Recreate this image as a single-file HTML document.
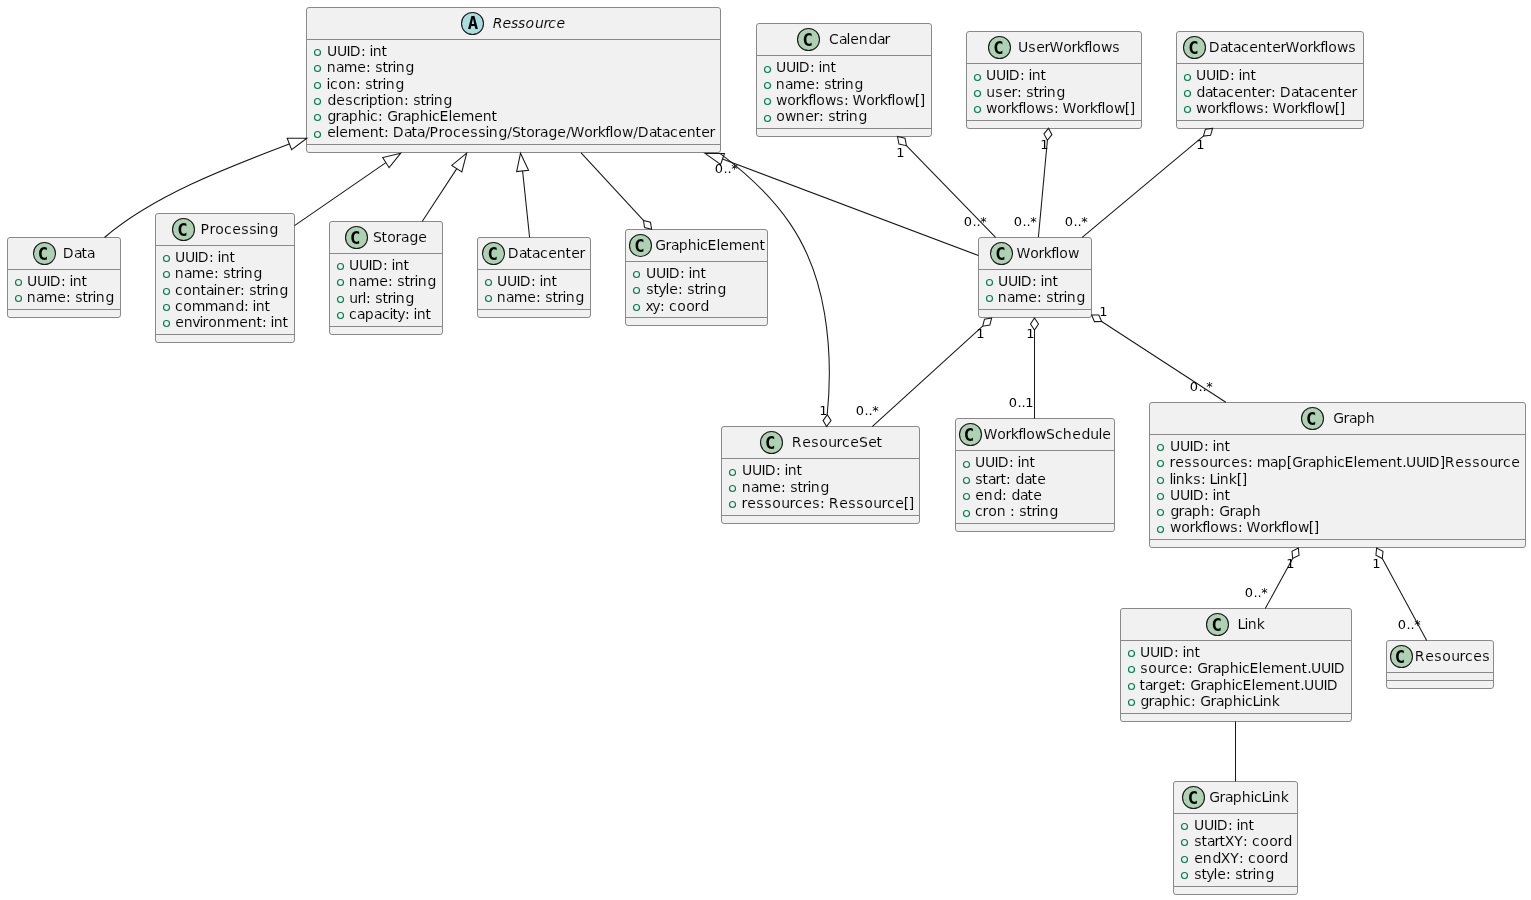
<!DOCTYPE html>
<html lang="en">
<head>
<meta charset="utf-8">
<title>Class diagram</title>
<style>
html,body{margin:0;padding:0;background:#fff;}
body{width:1531px;height:900px;overflow:hidden;}
svg{display:block;will-change:transform;}
text{font-family:"DejaVu Sans","Liberation Sans",sans-serif;fill:#000;font-kerning:none;font-variant-ligatures:none;white-space:pre;}
.nm,.mb{font-size:14px;stroke:#F1F1F1;stroke-width:0.1px;}
.it{font-style:italic;}
.lb{font-size:13px;}
.ch{font-family:"DejaVu Sans Mono","Liberation Mono",monospace;font-weight:bold;font-size:17.3px;}
.bx{fill:#F1F1F1;stroke:#898989;stroke-width:1;}
.sp{stroke:#898989;stroke-width:1;}
.cc{stroke:#181818;stroke-width:1.1;}
.ic{fill:none;stroke:#038048;stroke-width:1.15;}
.e,.h{fill:none;stroke:#181818;stroke-width:1.06;}
</style>
</head>
<body>
<svg width="1531" height="900" viewBox="0 0 1531 900">
<rect x="0" y="0" width="1531" height="900" fill="#FFFFFF"/>
<g class="cls">
<rect x="306.5" y="7.5" width="414" height="145" rx="2.5" ry="2.5" class="bx"/>
<circle cx="472.5" cy="23.5" r="11" fill="#A9DCDF" class="cc"/>
<text class="ch" x="473.05" y="29.15" text-anchor="middle">A</text>
<text class="nm it" x="492.75 502.5 511 518 525.5 535 543.5 548.25 556.5" y="28">Ressource</text>
<line x1="307" y1="39.5" x2="720" y2="39.5" class="sp"/>
<circle cx="317.5" cy="52.5" r="3" class="ic"/>
<text class="mb" x="327 337 346.5 349.75 361 366 369.5 372.75 381.5" y="56">UUID: int</text>
<circle cx="317.5" cy="68.5" r="3" class="ic"/>
<text class="mb" x="326.75 336 343.75 357.25 366 371 375.25 382.5 387.5 392.5 395.75 405.5" y="72">name: string</text>
<circle cx="317.5" cy="85.5" r="3" class="ic"/>
<text class="mb" x="326.5 330 338.25 346.75 356 361 365.25 372.5 377.5 382.5 385.75 395.5" y="89">icon: string</text>
<circle cx="317.5" cy="101.5" r="3" class="ic"/>
<text class="mb" x="327.5 336.25 345.25 353 360.5 365.5 368.75 377.5 382.5 386.25 394.75 404 409 413.25 420.5 425.5 430.5 433.75 443.5" y="105">description: string</text>
<circle cx="317.5" cy="117.5" r="3" class="ic"/>
<text class="mb" x="327.5 335.5 341 348.75 357.75 366.5 370 378 383 387.25 397.5 403 410.75 419.75 428.5 432 439.5 448.5 452.25 460.75 474.25 482.75 491.5" y="121">graphic: GraphicElement</text>
<circle cx="317.5" cy="134.5" r="3" class="ic"/>
<text class="mb" x="327.25 335.5 339.25 347.75 361.25 369.75 378.5 384 389 392.75 404 411.5 417 425.25 429.5 438.5 444.25 453 461.25 470.25 478.25 485.5 488.75 498.5 507.25 512 520.5 526.25 534.5 540 548.5 557.25 566.25 570.5 584.25 592.5 597.75 605.25 609.5 613.25 622 633.25 637.75 649 656.5 662 670 678.25 686.75 695.5 701.25 709.5" y="137">element: Data/Processing/Storage/Workflow/Datacenter</text>
<line x1="307" y1="144.5" x2="720" y2="144.5" class="sp"/>
</g>
<g class="cls">
<rect x="7.5" y="237.5" width="113" height="80" rx="2.5" ry="2.5" class="bx"/>
<circle cx="44.5" cy="253.5" r="11" fill="#ADD1B2" class="cc"/>
<text class="ch" x="43" y="259.65" text-anchor="middle">C</text>
<text class="nm" x="62.75 74 81.5 87" y="258">Data</text>
<line x1="8" y1="269.5" x2="120" y2="269.5" class="sp"/>
<circle cx="18.5" cy="282.5" r="3" class="ic"/>
<text class="mb" x="27 37 46.5 49.75 61 66 69.5 72.75 81.5" y="286">UUID: int</text>
<circle cx="18.5" cy="298.5" r="3" class="ic"/>
<text class="mb" x="26.75 36 43.75 57.25 66 71 75.25 82.5 87.5 92.5 95.75 105.5" y="302">name: string</text>
<line x1="8" y1="309.5" x2="120" y2="309.5" class="sp"/>
</g>
<g class="cls">
<rect x="155.5" y="213.5" width="139" height="129" rx="2.5" ry="2.5" class="bx"/>
<circle cx="183.5" cy="229.5" r="11" fill="#ADD1B2" class="cc"/>
<text class="ch" x="182.45" y="235.65" text-anchor="middle">C</text>
<text class="nm" x="200.5 209.5 215.25 224 232.25 241.25 249.25 256.5 259.75 269.5" y="234">Processing</text>
<line x1="156" y1="245.5" x2="294" y2="245.5" class="sp"/>
<circle cx="166.5" cy="258.5" r="3" class="ic"/>
<text class="mb" x="175 185 194.5 197.75 209 214 217.5 220.75 229.5" y="262">UUID: int</text>
<circle cx="166.5" cy="274.5" r="3" class="ic"/>
<text class="mb" x="174.75 184 191.75 205.25 214 219 223.25 230.5 235.5 240.5 243.75 253.5" y="278">name: string</text>
<circle cx="166.5" cy="291.5" r="3" class="ic"/>
<text class="mb" x="175 183.25 191.75 200.5 206 213.5 216.75 226.25 234.5 240 245 249.25 256.5 261.5 266.5 269.75 279.5" y="295">container: string</text>
<circle cx="166.5" cy="307.5" r="3" class="ic"/>
<text class="mb" x="175 183.25 191.75 204.75 218 225.75 235.5 244 249 252.5 255.75 264.5" y="311">command: int</text>
<circle cx="166.5" cy="323.5" r="3" class="ic"/>
<text class="mb" x="175.25 183.75 192.25 199.5 202.5 208.25 216.75 225.75 239.25 247.75 256.5 262 267 270.5 273.75 282.5" y="327">environment: int</text>
<line x1="156" y1="334.5" x2="294" y2="334.5" class="sp"/>
</g>
<g class="cls">
<rect x="329.5" y="221.5" width="113" height="113" rx="2.5" ry="2.5" class="bx"/>
<circle cx="356.5" cy="237.5" r="11" fill="#ADD1B2" class="cc"/>
<text class="ch" x="355.1" y="243.65" text-anchor="middle">C</text>
<text class="nm" x="373 381.5 387.25 395.5 401 409.5 418.25" y="242">Storage</text>
<line x1="330" y1="253.5" x2="442" y2="253.5" class="sp"/>
<circle cx="340.5" cy="266.5" r="3" class="ic"/>
<text class="mb" x="349 359 368.5 371.75 383 388 391.5 394.75 403.5" y="270">UUID: int</text>
<circle cx="340.5" cy="282.5" r="3" class="ic"/>
<text class="mb" x="348.75 358 365.75 379.25 388 393 397.25 404.5 409.5 414.5 417.75 427.5" y="286">name: string</text>
<circle cx="340.5" cy="299.5" r="3" class="ic"/>
<text class="mb" x="349.25 357.5 362.5 366 371 375.25 382.5 387.5 392.5 395.75 405.5" y="303">url: string</text>
<circle cx="340.5" cy="315.5" r="3" class="ic"/>
<text class="mb" x="349 357 364.75 374 382 389.5 392.5 397.25 405 410 413.5 416.75 425.5" y="319">capacity: int</text>
<line x1="330" y1="326.5" x2="442" y2="326.5" class="sp"/>
</g>
<g class="cls">
<rect x="477.5" y="237.5" width="113" height="80" rx="2.5" ry="2.5" class="bx"/>
<circle cx="493.5" cy="253.5" r="11" fill="#ADD1B2" class="cc"/>
<text class="ch" x="492.75" y="259.65" text-anchor="middle">C</text>
<text class="nm" x="507.75 519 526.5 532 540 548.25 556.75 565.5 571.25 579.5" y="258">Datacenter</text>
<line x1="478" y1="269.5" x2="590" y2="269.5" class="sp"/>
<circle cx="488.5" cy="282.5" r="3" class="ic"/>
<text class="mb" x="497 507 516.5 519.75 531 536 539.5 542.75 551.5" y="286">UUID: int</text>
<circle cx="488.5" cy="298.5" r="3" class="ic"/>
<text class="mb" x="496.75 506 513.75 527.25 536 541 545.25 552.5 557.5 562.5 565.75 575.5" y="302">name: string</text>
<line x1="478" y1="309.5" x2="590" y2="309.5" class="sp"/>
</g>
<g class="cls">
<rect x="625.5" y="229.5" width="142" height="96" rx="2.5" ry="2.5" class="bx"/>
<circle cx="640.5" cy="245.5" r="11" fill="#ADD1B2" class="cc"/>
<text class="ch" x="639.45" y="251.65" text-anchor="middle">C</text>
<text class="nm" x="655.25 665.5 671 678.75 687.75 696.5 700 707.5 716.5 720.25 728.75 742.25 750.75 759.5" y="250">GraphicElement</text>
<line x1="626" y1="261.5" x2="767" y2="261.5" class="sp"/>
<circle cx="636.5" cy="274.5" r="3" class="ic"/>
<text class="mb" x="646 656 665.5 668.75 680 685 688.5 691.75 700.5" y="278">UUID: int</text>
<circle cx="636.5" cy="290.5" r="3" class="ic"/>
<text class="mb" x="646.25 653.5 658.25 665.5 669.25 678 683 687.25 694.5 699.5 704.5 707.75 717.5" y="294">style: string</text>
<circle cx="636.5" cy="307.5" r="3" class="ic"/>
<text class="mb" x="645.5 652.25 660 665 669 677.25 686.25 694.5 700.5" y="311">xy: coord</text>
<line x1="626" y1="317.5" x2="767" y2="317.5" class="sp"/>
</g>
<g class="cls">
<rect x="756.5" y="23.5" width="175" height="113" rx="2.5" ry="2.5" class="bx"/>
<circle cx="808.5" cy="39.5" r="11" fill="#ADD1B2" class="cc"/>
<text class="ch" x="807.7" y="45.65" text-anchor="middle">C</text>
<text class="nm" x="829 839 846.5 850.25 858.75 868.5 877 884.5" y="44">Calendar</text>
<line x1="757" y1="55.5" x2="931" y2="55.5" class="sp"/>
<circle cx="767.5" cy="69.5" r="3" class="ic"/>
<text class="mb" x="776 786 795.5 798.75 810 815 818.5 821.75 830.5" y="72">UUID: int</text>
<circle cx="767.5" cy="85.5" r="3" class="ic"/>
<text class="mb" x="775.75 785 792.75 806.25 815 820 824.25 831.5 836.5 841.5 844.75 854.5" y="89">name: string</text>
<circle cx="767.5" cy="101.5" r="3" class="ic"/>
<text class="mb" x="776 787.25 795.5 800.75 808.25 812.5 816.25 825 836.25 844 849 852.5 866.25 874.5 879.75 887.25 891.5 895.25 904 914.75 919.75" y="105">workflows: Workflow[]</text>
<circle cx="767.5" cy="118.5" r="3" class="ic"/>
<text class="mb" x="776.25 785 795.75 805.25 813.5 819 824 828.25 835.5 840.5 845.5 848.75 858.5" y="121">owner: string</text>
<line x1="757" y1="128.5" x2="931" y2="128.5" class="sp"/>
</g>
<g class="cls">
<rect x="966.5" y="31.5" width="175" height="97" rx="2.5" ry="2.5" class="bx"/>
<circle cx="999.5" cy="47.5" r="11" fill="#ADD1B2" class="cc"/>
<text class="ch" x="998.4" y="53.65" text-anchor="middle">C</text>
<text class="nm" x="1018 1028.25 1036.25 1044.5 1049.5 1063.25 1071.5 1076.75 1084.25 1088.5 1092.25 1101 1112.25" y="52">UserWorkflows</text>
<line x1="967" y1="63.5" x2="1141" y2="63.5" class="sp"/>
<circle cx="977.5" cy="77.5" r="3" class="ic"/>
<text class="mb" x="986 996 1005.5 1008.75 1020 1025 1028.5 1031.75 1040.5" y="80">UUID: int</text>
<circle cx="977.5" cy="93.5" r="3" class="ic"/>
<text class="mb" x="986.25 995.25 1003.25 1011.5 1017 1022 1026.25 1033.5 1038.5 1043.5 1046.75 1056.5" y="97">user: string</text>
<circle cx="977.5" cy="109.5" r="3" class="ic"/>
<text class="mb" x="986 997.25 1005.5 1010.75 1018.25 1022.5 1026.25 1035 1046.25 1054 1059 1062.5 1076.25 1084.5 1089.75 1097.25 1101.5 1105.25 1114 1124.75 1129.75" y="113">workflows: Workflow[]</text>
<line x1="967" y1="120.5" x2="1141" y2="120.5" class="sp"/>
</g>
<g class="cls">
<rect x="1176.5" y="31.5" width="187" height="97" rx="2.5" ry="2.5" class="bx"/>
<circle cx="1194.5" cy="47.5" r="11" fill="#ADD1B2" class="cc"/>
<text class="ch" x="1193.55" y="53.65" text-anchor="middle">C</text>
<text class="nm" x="1208.75 1220 1227.5 1233 1241 1249.25 1257.75 1266.5 1272.25 1280.5 1285.5 1299.25 1307.5 1312.75 1320.25 1324.5 1328.25 1337 1348.25" y="52">DatacenterWorkflows</text>
<line x1="1177" y1="63.5" x2="1363" y2="63.5" class="sp"/>
<circle cx="1187.5" cy="77.5" r="3" class="ic"/>
<text class="mb" x="1196 1206 1215.5 1218.75 1230 1235 1238.5 1241.75 1250.5" y="80">UUID: int</text>
<circle cx="1187.5" cy="93.5" r="3" class="ic"/>
<text class="mb" x="1196.5 1205 1212.5 1218 1226 1234.25 1242.75 1251.5 1257.25 1265.5 1271 1276 1279.75 1291 1298.5 1304 1312 1320.25 1328.75 1337.5 1343.25 1351.5" y="97">datacenter: Datacenter</text>
<circle cx="1187.5" cy="109.5" r="3" class="ic"/>
<text class="mb" x="1196 1207.25 1215.5 1220.75 1228.25 1232.5 1236.25 1245 1256.25 1264 1269 1272.5 1286.25 1294.5 1299.75 1307.25 1311.5 1315.25 1324 1334.75 1339.75" y="113">workflows: Workflow[]</text>
<line x1="1177" y1="120.5" x2="1363" y2="120.5" class="sp"/>
</g>
<g class="cls">
<rect x="978.5" y="237.5" width="113" height="80" rx="2.5" ry="2.5" class="bx"/>
<circle cx="1001.5" cy="253.5" r="11" fill="#ADD1B2" class="cc"/>
<text class="ch" x="1000.5" y="259.65" text-anchor="middle">C</text>
<text class="nm" x="1016.5 1030.25 1038.5 1043.75 1051.25 1055.5 1059.25 1068" y="258">Workflow</text>
<line x1="979" y1="269.5" x2="1091" y2="269.5" class="sp"/>
<circle cx="989.5" cy="282.5" r="3" class="ic"/>
<text class="mb" x="998 1008 1017.5 1020.75 1032 1037 1040.5 1043.75 1052.5" y="286">UUID: int</text>
<circle cx="989.5" cy="298.5" r="3" class="ic"/>
<text class="mb" x="997.75 1007 1014.75 1028.25 1037 1042 1046.25 1053.5 1058.5 1063.5 1066.75 1076.5" y="302">name: string</text>
<line x1="979" y1="309.5" x2="1091" y2="309.5" class="sp"/>
</g>
<g class="cls">
<rect x="721.5" y="426.5" width="198" height="97" rx="2.5" ry="2.5" class="bx"/>
<circle cx="771.5" cy="442.5" r="11" fill="#ADD1B2" class="cc"/>
<text class="ch" x="770.2" y="448.65" text-anchor="middle">C</text>
<text class="nm" x="791.75 802.25 811.25 819.25 828.25 836.5 842 850.25 859 868.25 876.5" y="447">ResourceSet</text>
<line x1="722" y1="458.5" x2="919" y2="458.5" class="sp"/>
<circle cx="732.5" cy="472.5" r="3" class="ic"/>
<text class="mb" x="742 752 761.5 764.75 776 781 784.5 787.75 796.5" y="475">UUID: int</text>
<circle cx="732.5" cy="488.5" r="3" class="ic"/>
<text class="mb" x="741.75 751 758.75 772.25 781 786 790.25 797.5 802.5 807.5 810.75 820.5" y="492">name: string</text>
<circle cx="732.5" cy="504.5" r="3" class="ic"/>
<text class="mb" x="741.5 747.25 756.25 764.25 772.25 781.25 789.5 795 803.25 812.25 820 825 828.75 839.25 848.25 856.25 864.25 873.25 881.5 887 895.25 903.75 908.75" y="508">ressources: Ressource[]</text>
<line x1="722" y1="515.5" x2="919" y2="515.5" class="sp"/>
</g>
<g class="cls">
<rect x="955.5" y="418.5" width="159" height="113" rx="2.5" ry="2.5" class="bx"/>
<circle cx="970.5" cy="434.5" r="11" fill="#ADD1B2" class="cc"/>
<text class="ch" x="968.95" y="440.65" text-anchor="middle">C</text>
<text class="nm" x="983.5 997.25 1005.5 1010.75 1018.25 1022.5 1026.25 1035 1046 1055 1062.75 1072.25 1081.5 1090.25 1098.5 1102.25" y="439">WorkflowSchedule</text>
<line x1="956" y1="450.5" x2="1114" y2="450.5" class="sp"/>
<circle cx="966.5" cy="464.5" r="3" class="ic"/>
<text class="mb" x="975 985 994.5 997.75 1009 1014 1017.5 1020.75 1029.5" y="467">UUID: int</text>
<circle cx="966.5" cy="480.5" r="3" class="ic"/>
<text class="mb" x="975.25 982.5 988 995.5 1000.5 1006 1011 1015.5 1024 1031.5 1037.25" y="484">start: date</text>
<circle cx="966.5" cy="496.5" r="3" class="ic"/>
<text class="mb" x="975.25 983.75 993.5 1002 1007 1011.5 1020 1027.5 1033.25" y="500">end: date</text>
<circle cx="966.5" cy="513.5" r="3" class="ic"/>
<text class="mb" x="975 982.5 988.25 996.75 1006 1010 1015 1019.25 1026.5 1031.5 1036.5 1039.75 1049.5" y="516">cron : string</text>
<line x1="956" y1="523.5" x2="1114" y2="523.5" class="sp"/>
</g>
<g class="cls">
<rect x="1149.5" y="402.5" width="376" height="145" rx="2.5" ry="2.5" class="bx"/>
<circle cx="1312.5" cy="418.5" r="11" fill="#ADD1B2" class="cc"/>
<text class="ch" x="1311.2" y="424.65" text-anchor="middle">C</text>
<text class="nm" x="1333.25 1343.5 1349 1356.75 1365.75" y="423">Graph</text>
<line x1="1150" y1="434.5" x2="1525" y2="434.5" class="sp"/>
<circle cx="1160.5" cy="447.5" r="3" class="ic"/>
<text class="mb" x="1170 1180 1189.5 1192.75 1204 1209 1212.5 1215.75 1224.5" y="451">UUID: int</text>
<circle cx="1160.5" cy="463.5" r="3" class="ic"/>
<text class="mb" x="1169.5 1175.25 1184.25 1192.25 1200.25 1209.25 1217.5 1223 1231.25 1240.25 1248 1253 1256.75 1270 1277.75 1286.75 1292.25 1302.5 1308 1315.75 1324.75 1333.5 1337 1344.5 1353.5 1357.25 1365.75 1379.25 1387.75 1396.5 1402.25 1406 1416 1425.5 1428.75 1439.75 1444.75 1455.25 1464.25 1472.25 1480.25 1489.25 1497.5 1503 1511.25" y="467">ressources: map[GraphicElement.UUID]Ressource</text>
<circle cx="1160.5" cy="480.5" r="3" class="ic"/>
<text class="mb" x="1169.5 1172.5 1175.75 1184.75 1193.25 1201 1206 1209.5 1216.5 1219.75 1228.75 1236.75 1241.75" y="484">links: Link[]</text>
<circle cx="1160.5" cy="496.5" r="3" class="ic"/>
<text class="mb" x="1170 1180 1189.5 1192.75 1204 1209 1212.5 1215.75 1224.5" y="500">UUID: int</text>
<circle cx="1160.5" cy="512.5" r="3" class="ic"/>
<text class="mb" x="1170.5 1178.5 1184 1191.75 1200.75 1210 1215 1219.25 1229.5 1235 1242.75 1251.75" y="516">graph: Graph</text>
<circle cx="1160.5" cy="529.5" r="3" class="ic"/>
<text class="mb" x="1170 1181.25 1189.5 1194.75 1202.25 1206.5 1210.25 1219 1230.25 1238 1243 1246.5 1260.25 1268.5 1273.75 1281.25 1285.5 1289.25 1298 1308.75 1313.75" y="532">workflows: Workflow[]</text>
<line x1="1150" y1="539.5" x2="1525" y2="539.5" class="sp"/>
</g>
<g class="cls">
<rect x="1120.5" y="608.5" width="231" height="113" rx="2.5" ry="2.5" class="bx"/>
<circle cx="1217.5" cy="624.5" r="11" fill="#ADD1B2" class="cc"/>
<text class="ch" x="1216.7" y="630.65" text-anchor="middle">C</text>
<text class="nm" x="1237.5 1244.5 1247.75 1256.75" y="629">Link</text>
<line x1="1121" y1="640.5" x2="1351" y2="640.5" class="sp"/>
<circle cx="1131.5" cy="653.5" r="3" class="ic"/>
<text class="mb" x="1140 1150 1159.5 1162.75 1174 1179 1182.5 1185.75 1194.5" y="657">UUID: int</text>
<circle cx="1131.5" cy="669.5" r="3" class="ic"/>
<text class="mb" x="1140.25 1148.25 1157.25 1165.5 1171 1179.25 1188 1193 1197.25 1207.5 1213 1220.75 1229.75 1238.5 1242 1249.5 1258.5 1262.25 1270.75 1284.25 1292.75 1301.5 1307.25 1311 1321 1330.5 1333.75" y="673">source: GraphicElement.UUID</text>
<circle cx="1131.5" cy="686.5" r="3" class="ic"/>
<text class="mb" x="1139.5 1145 1152.5 1158.5 1167.25 1175.5 1181 1186 1190.25 1200.5 1206 1213.75 1222.75 1231.5 1235 1242.5 1251.5 1255.25 1263.75 1277.25 1285.75 1294.5 1300.25 1304 1314 1323.5 1326.75" y="690">target: GraphicElement.UUID</text>
<circle cx="1131.5" cy="702.5" r="3" class="ic"/>
<text class="mb" x="1140.5 1148.5 1154 1161.75 1170.75 1179.5 1183 1191 1196 1200.25 1210.5 1216 1223.75 1232.75 1241.5 1245 1252.5 1259.5 1262.75 1271.75" y="706">graphic: GraphicLink</text>
<line x1="1121" y1="713.5" x2="1351" y2="713.5" class="sp"/>
</g>
<g class="cls">
<rect x="1386.5" y="640.5" width="107" height="48" rx="2.5" ry="2.5" class="bx"/>
<circle cx="1401.5" cy="656.5" r="11" fill="#ADD1B2" class="cc"/>
<text class="ch" x="1399.95" y="662.65" text-anchor="middle">C</text>
<text class="nm" x="1414.75 1425.25 1434.25 1442.25 1451.25 1459.5 1465 1473.25 1482.25" y="661">Resources</text>
<line x1="1387" y1="672.5" x2="1493" y2="672.5" class="sp"/>
<line x1="1387" y1="680.5" x2="1493" y2="680.5" class="sp"/>
</g>
<g class="cls">
<rect x="1173.5" y="781.5" width="124" height="113" rx="2.5" ry="2.5" class="bx"/>
<circle cx="1193.5" cy="797.5" r="11" fill="#ADD1B2" class="cc"/>
<text class="ch" x="1192.85" y="803.65" text-anchor="middle">C</text>
<text class="nm" x="1209.25 1219.5 1225 1232.75 1241.75 1250.5 1254 1261.5 1268.5 1271.75 1280.75" y="802">GraphicLink</text>
<line x1="1174" y1="813.5" x2="1297" y2="813.5" class="sp"/>
<circle cx="1184.5" cy="826.5" r="3" class="ic"/>
<text class="mb" x="1194 1204 1213.5 1216.75 1228 1233 1236.5 1239.75 1248.5" y="830">UUID: int</text>
<circle cx="1184.5" cy="842.5" r="3" class="ic"/>
<text class="mb" x="1194.25 1201.5 1207 1214.5 1219.5 1224.75 1234.25 1243 1248 1252 1260.25 1269.25 1277.5 1283.5" y="846">startXY: coord</text>
<circle cx="1184.5" cy="859.5" r="3" class="ic"/>
<text class="mb" x="1194.25 1202.75 1212.5 1220.75 1230.25 1239 1244 1248 1256.25 1265.25 1273.5 1279.5" y="863">endXY: coord</text>
<circle cx="1184.5" cy="875.5" r="3" class="ic"/>
<text class="mb" x="1194.25 1201.5 1206.25 1213.5 1217.25 1226 1231 1235.25 1242.5 1247.5 1252.5 1255.75 1265.5" y="879">style: string</text>
<line x1="1174" y1="886.5" x2="1297" y2="886.5" class="sp"/>
</g>
<g class="edges">
<polygon points="306.9,138.3 287.2,138.3 291.6,149.6" class="h"/>
<path d="M104.5,237.5 C153.8,195.3 228.6,167.1 289.3,144" class="e"/>
<polygon points="400.8,153.2 382.7,157.53 389.1,167.67" class="h"/>
<path d="M294.5,225.6 L385.9,162.6" class="e"/>
<polygon points="466.7,153.2 451.75,165.36 461.85,171.84" class="h"/>
<path d="M422.2,221.5 L456.8,168.6" class="e"/>
<polygon points="520.5,153.2 516.64,171.61 528.56,170.19" class="h"/>
<path d="M529.6,237.5 L522.6,170.9" class="e"/>
<polygon points="651.6,229.3 650.47,222.18 643.46,220.48 644.59,227.6" class="h"/>
<path d="M581.1,152.9 L643.46,220.48" class="e"/>
<polygon points="705,153.4 724.5,153.5 720.6,164.4" class="h"/>
<path d="M978.5,255.6 L722.5,158.9" class="e"/>
<text class="lb" x="714.75 723.5 727.5 731.25" y="173">0..*</text>
<path d="M719.9,153.4 C745.7,172.7 770.8,195.7 789.4,222.6 C808,249.6 819.1,280.9 824.5,313.4 C830.1,346.9 830.6,381.2 827.2,414.6" class="e"/>
<polygon points="826.6,426.6 823.1,420.6 827.3,414.8 831,420.5" class="h"/>
<text class="lb" x="819.25" y="415">1</text>
<polygon points="897.5,136.5 898.95,144.02 906.43,145.67 904.97,138.16" class="h"/>
<path d="M906.43,145.67 L995.6,237.3" class="e"/>
<text class="lb" x="896.25" y="157">1</text>
<text class="lb" x="963.75 972.5 976.5 980.25" y="226">0..*</text>
<polygon points="1048.5,128.3 1043.96,133.91 1047.39,140.25 1051.93,134.64" class="h"/>
<path d="M1047.39,140.25 L1038.4,237.3" class="e"/>
<text class="lb" x="1040.25" y="149">1</text>
<text class="lb" x="1013.75 1022.5 1026.5 1030.25" y="226">0..*</text>
<polygon points="1212.6,128.4 1205.43,129.18 1203.39,136.09 1210.56,135.32" class="h"/>
<path d="M1203.39,136.09 L1082.2,237.3" class="e"/>
<text class="lb" x="1196.25" y="149">1</text>
<text class="lb" x="1064.75 1073.5 1077.5 1081.25" y="226">0..*</text>
<polygon points="991.6,318.1 984.47,319.17 982.72,326.17 989.85,325.1" class="h"/>
<path d="M982.72,326.17 L872.2,426.6" class="e"/>
<text class="lb" x="976.25" y="338">1</text>
<text class="lb" x="855.75 864.5 868.5 872.25" y="415">0..*</text>
<polygon points="1034.5,318 1030.5,324 1034.5,330 1038.5,324" class="h"/>
<path d="M1034.5,330 L1034.5,418.6" class="e"/>
<text class="lb" x="1026.25" y="338">1</text>
<text class="lb" x="1008.75 1017.5 1021.5 1025.25" y="407">0..1</text>
<polygon points="1091.6,315 1094.45,321.62 1101.66,321.54 1098.81,314.92" class="h"/>
<path d="M1101.66,321.54 L1225.8,402.3" class="e"/>
<text class="lb" x="1099.25" y="316">1</text>
<text class="lb" x="1189.75 1198.5 1202.5 1206.25" y="391">0..*</text>
<polygon points="1298.4,548 1292.01,551.34 1292.64,558.53 1299.03,555.18" class="h"/>
<path d="M1292.64,558.53 L1265.3,608.5" class="e"/>
<text class="lb" x="1286.25" y="568">1</text>
<text class="lb" x="1244.75 1253.5 1257.5 1261.25" y="597">0..*</text>
<polygon points="1376.6,548 1375.94,555.18 1382.32,558.55 1382.97,551.37" class="h"/>
<path d="M1382.32,558.55 L1426.7,640.5" class="e"/>
<text class="lb" x="1372.25" y="568">1</text>
<text class="lb" x="1397.75 1406.5 1410.5 1414.25" y="629">0..*</text>
<path d="M1235.5,721.5 L1235.5,781.5" class="e"/>
</g>
</svg>
</body>
</html>
